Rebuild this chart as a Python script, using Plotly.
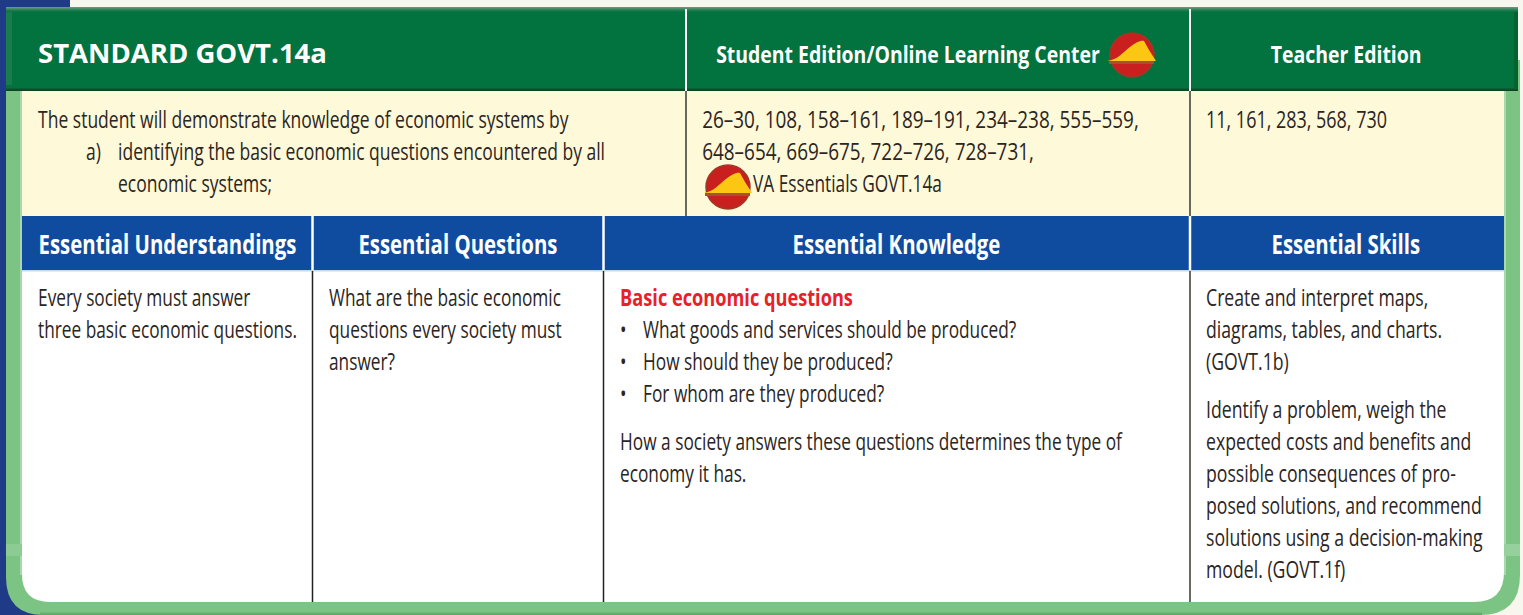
import json
import plotly.graph_objects as go

W, H = 1523, 615
FONT = "Open Sans"

# ---------- text content ----------
title = "STANDARD GOVT.14a"
head_student = "Student Edition/Online Learning Center"
head_teacher = "Teacher Edition"
standard_lines = ["The student will demonstrate knowledge of economic systems by",
                  "identifying the basic economic questions encountered by all",
                  "economic systems;"]
standard_marker = "a)"
student_pages = ["26–30, 108, 158–161, 189–191, 234–238, 555–559,",
                 "648–654, 669–675, 722–726, 728–731,",
                 "VA Essentials GOVT.14a"]
teacher_pages = ["11, 161, 283, 568, 730"]
column_heads = ["Essential Understandings", "Essential Questions", "Essential Knowledge", "Essential Skills"]
understandings = ["Every society must answer", "three basic economic questions."]
questions = ["What are the basic economic", "questions every society must", "answer?"]
knowledge_title = "Basic economic questions"
knowledge_bullets = ["What goods and services should be produced?",
                     "How should they be produced?",
                     "For whom are they produced?"]
knowledge_after = ["How a society answers these questions determines the type of", "economy it has."]
skills_a = ["Create and interpret maps,", "diagrams, tables, and charts.", "(GOVT.1b)"]
skills_b = ["Identify a problem, weigh the", "expected costs and benefits and",
            "possible consequences of pro-", "posed solutions, and recommend",
            "solutions using a decision-making", "model. (GOVT.1f)"]

# ---------- colours ----------
NAVY = "#1f3a86"; PAPER = "#f8f7ef"; GREEN = "#02723f"; LIGHT = "#7cc483"
CREAM = "#fef9d8"; BLUE = "#0f4ca0"; INK = "#2b2523"; RED = "#e8202a"

shapes, notes, groups = [], [], []
fits = {}   # group -> [reference note index, reference width]

def rect(x0, y0, x1, y1, color):
    shapes.append(dict(type="rect", x0=x0, y0=y0, x1=x1, y1=y1, fillcolor=color, line_width=0, layer="below"))

def path(d, color):
    shapes.append(dict(type="path", path=d, fillcolor=color, line_width=0, layer="below"))

def vline(x, y0, y1, color, w=1.5):
    shapes.append(dict(type="line", x0=x, x1=x, y0=y0, y1=y1, line=dict(color=color, width=w), layer="below"))

def text(x, y, s, size=23, color=INK, bold=False, anchor="left", group="body", fit=None):
    if fit:
        fits[group] = [len(notes), fit]
    groups.append(group)
    if anchor == "left":
        x -= 2      # annotation box padding
    notes.append(dict(x=x, y=y - 1, text=f"<b>{s}</b>" if bold else s, showarrow=False, xanchor=anchor, yanchor="middle",
                      font=dict(family=FONT, size=size, color=color), xref="x", yref="y"))

def icon(cx, cy):
    r = 22
    shapes.append(dict(type="circle", x0=cx-r, x1=cx+r, y0=cy-r, y1=cy+r, fillcolor="#c9201f",
                       line=dict(color="#9c3a25", width=1.5), layer="below"))
    path(f"M{cx-25},{cy+6} C{cx-14},{cy+5} {cx-9},{cy-3} {cx-2},{cy-8} C{cx+3},{cy-12} {cx+9},{cy-15} {cx+12},{cy-14} "
         f"L{cx+17},{cy-5} L{cx+24},{cy+6} Z", "#fcc712")
    rect(cx-23, cy+6, cx+22, cy+9, "#a8502a")

# background
rect(0, 0, W, H, PAPER)
rect(0, 0, 70, H, NAVY)
# light green rounded frame
path("M6,60 L1520,60 L1520,575 Q1520,615 1480,615 L44,615 Q6,615 6,577 Z", LIGHT)
for i, c in enumerate(["#5fa868", "#68b06f", "#72ba79"]):
    rect(40, 614 - i, 1482, 615 - i, c)
rect(20, 91, 22, 575, "#a9d8ae"); rect(1504, 91, 1506, 575, "#a9d8ae")
# faint seam in the frame
rect(6, 544, 22, 556, "#8ccb92"); rect(1504, 544, 1520, 556, "#96d09c")
# inner white panel
path("M22,270 L1504,270 L1504,572 Q1504,602 1474,602 L50,602 Q22,602 22,574 Z", "#ffffff")
rect(22, 91, 1504, 216, CREAM)
rect(22, 216, 1504, 270, BLUE)
rect(22, 270, 1504, 271.5, "#c9d8ea")
# green header with soft edges
rect(6, 7, 1518, 91, GREEN)
for i, c in enumerate(["#5f9a7a", "#4a8e6b", "#33845b", "#1c7b4d", "#0c7545"]):
    rect(6, 7 + i, 1518, 8 + i, c)
for i, c in enumerate(["#0a5f35", "#0c4f2c", "#0f4327"]):
    rect(6, 88 + i, 1518, 89 + i, c)
rect(6, 12, 12, 85, "#1a7c4e")
rect(1514, 12, 1518, 88, "#02632f")

# dividers
vline(686, 9, 91, "#ffffff", 2); vline(1190, 9, 91, "#ffffff", 2)
vline(686, 91, 216, "#6b6860", 2); vline(1190, 91, 216, "#6b6860", 2)
for x in (312.5, 603.5, 1190):
    vline(x, 216, 270, "#ffffff", 2.5)
vline(312.5, 271, 602, "#222222", 1.5); vline(603.5, 271, 602, "#222222", 1.5); vline(1190, 271, 602, "#6b6860", 2)

icon(1132, 55); icon(728, 187)

# headers
text(38, 53, title, size=27, color="#ffffff", bold=True, group="title", fit=289)
text(716, 54, head_student, size=24, color="#ffffff", bold=True, group="head", fit=384)
text(1346, 54, head_teacher, size=24, color="#ffffff", bold=True, anchor="center", group="head")
for i, (x, s) in enumerate(zip((167, 458, 896, 1346), column_heads)):
    text(x, 245, s, size=26, color="#ffffff", bold=True, anchor="center", group="col", fit=258 if i == 0 else None)

# standard row
row = [120, 152, 184]
text(38, row[0], standard_lines[0], group="standard", fit=531)
text(86, row[1], standard_marker, group="standard")
text(118, row[1], standard_lines[1], group="standard")
text(118, row[2], standard_lines[2], group="standard")
text(702, row[0], student_pages[0], group="pages", fit=437)
text(702, row[1], student_pages[1], group="pages")
text(753, row[2], student_pages[2])
text(1206, row[0], teacher_pages[0], group="teacher", fit=181)

# body rows
lines = [298, 330, 362, 394]
for y, s in zip(lines, understandings):
    text(38, y, s, fit=259 if s == understandings[1] else None)
for y, s in zip(lines, questions):
    text(329, y, s)
text(620, lines[0], knowledge_title, color=RED, bold=True, group="red", fit=233)
for y, s in zip(lines[1:], knowledge_bullets):
    text(620, y, "•")
    text(643, y, s)
for y, s in zip((442, 474), knowledge_after):
    text(620, y, s)
for y, s in zip(lines, skills_a):
    text(1206, y, s, group="skills")
for y, s in zip((410, 442, 474, 506, 538, 570), skills_b):
    text(1206, y, s, group="skills", fit=277 if s == skills_b[4] else None)

# page setup: no body margin, and condense the text horizontally so Open Sans matches the narrow face
post = """
document.body.style.margin = '0';
var groups = %s, fits = %s, anchors = %s;
var els = document.querySelectorAll('.annotation-text');
var scale = {};
Object.keys(fits).forEach(function (g) {
  scale[g] = fits[g][1] / els[fits[g][0]].getBBox().width;
});
els.forEach(function (el, i) {
  var b = el.getBBox();
  var s = scale[groups[i]];
  var ax = anchors[i] === 'left' ? b.x : b.x + b.width / 2;
  el.setAttribute('transform', 'translate(' + ax + ',0) scale(' + s + ',1) translate(' + (-ax) + ',0)');
});
""" % (json.dumps(groups), json.dumps(fits), json.dumps([n["xanchor"] for n in notes]))

fig = go.Figure()
fig.update_layout(width=W, height=H, margin=dict(l=0, r=0, t=0, b=0), shapes=shapes, annotations=notes,
                  paper_bgcolor=PAPER, plot_bgcolor=PAPER, showlegend=False,
                  xaxis=dict(range=[0, W], visible=False, fixedrange=True),
                  yaxis=dict(range=[H, 0], visible=False, fixedrange=True))
fig.write_html("out.html", config=dict(displayModeBar=False), post_script=post,
               include_plotlyjs=True, default_height=H, default_width=W)
